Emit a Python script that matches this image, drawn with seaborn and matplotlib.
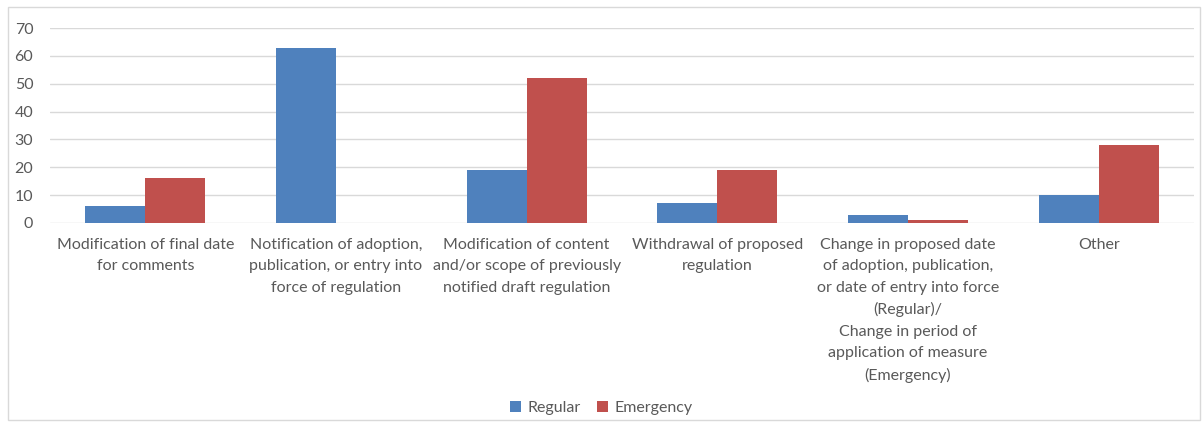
import matplotlib
matplotlib.use("Agg")
import matplotlib.pyplot as plt
import seaborn as sns
import pandas as pd
from matplotlib.patches import Rectangle

categories = [
    "Modification of final date\nfor comments",
    "Notification of adoption,\npublication, or entry into\nforce of regulation",
    "Modification of content\nand/or scope of previously\nnotified draft regulation",
    "Withdrawal of proposed\nregulation",
    "Change in proposed date\nof adoption, publication,\nor date of entry into force\n(Regular)/\nChange in period of\napplication of measure\n(Emergency)",
    "Other",
]
regular = [6, 63, 19, 7, 3, 10]
emergency = [16, 0, 52, 19, 1, 28]
series_names = ["Regular", "Emergency"]
yticks = [0, 10, 20, 30, 40, 50, 60, 70]

df = pd.DataFrame({
    "category": categories * 2,
    "value": regular + emergency,
    "series": [series_names[0]] * len(categories) + [series_names[1]] * len(categories),
})

sns.set_style("white")
plt.rcParams['font.family'] = ['Lato', 'DejaVu Sans']

fig = plt.figure(figsize=(12.03, 4.25), dpi=100)
ax = fig.add_axes([50/1203, 1 - 223/425, (1194-50)/1203, (223-28)/425])

sns.barplot(data=df, x="category", y="value", hue="series", order=categories,
            hue_order=series_names, palette=["#4F81BD", "#C0504D"], width=0.63,
            saturation=1, ax=ax, edgecolor="none", linewidth=0)

ax.set_ylim(0, 70)
ax.set_xlim(-0.5, len(categories) - 0.5)
ax.set_yticks(yticks)
ax.yaxis.grid(True, color="#d9d9d9", linewidth=1)
ax.set_axisbelow(True)
for s in ax.spines.values():
    s.set_visible(False)
ax.set_xlabel("")
ax.set_ylabel("")
ax.tick_params(axis="both", length=0, labelsize=11.5, labelcolor="#595959")
ax.tick_params(axis="x", pad=11)
ax.tick_params(axis="y", pad=12)
for lab in ax.get_yticklabels():
    lab.set_horizontalalignment("right")
for lab in ax.get_xticklabels():
    lab.set_linespacing(1.65)

ax.get_legend().remove()
handles, labels = ax.get_legend_handles_labels()
fig.legend(handles[:2], labels[:2], loc="center", bbox_to_anchor=(0.5, 1 - 408/425),
           ncol=2, frameon=False, fontsize=11.5, handlelength=0.7, handleheight=0.7,
           handletextpad=0.4, columnspacing=1.0, labelcolor="#595959")

fig.patches.append(Rectangle((8/1203, 5/425), (1200-8)/1203, (418-5)/425,
                             transform=fig.transFigure, fill=False,
                             edgecolor="#d9d9d9", linewidth=1))

fig.savefig("out.png", dpi=100)
